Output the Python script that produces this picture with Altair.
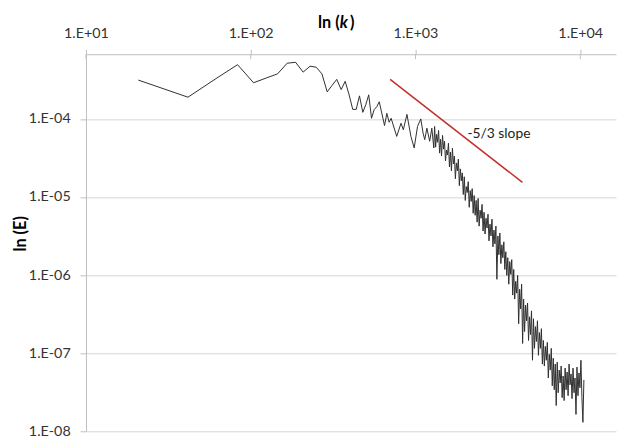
import altair as alt
import pandas as pd

# ---- data: decimal exponents (log10) ----
# low-k part (k = 20.8 n, n = 1..29)
low_log_k = [1.318, 1.619, 1.795, 1.920, 2.017, 2.096, 2.163, 2.221, 2.272, 2.318,
             2.360, 2.397, 2.432, 2.464, 2.494, 2.522, 2.549, 2.573, 2.597, 2.619,
             2.640, 2.660, 2.680, 2.698, 2.716, 2.733, 2.749, 2.765, 2.780]
low_log_E = [-3.503, -3.722, -3.476, -3.306, -3.537, -3.475, -3.423, -3.287, -3.275, -3.401,
             -3.325, -3.338, -3.423, -3.654, -3.570, -3.494, -3.625, -3.519, -3.692, -3.878,
             -3.878, -3.705, -3.916, -3.819, -3.692, -3.992, -3.882, -3.844, -3.781]

# middle part
mid_log_k = [2.812, 2.826, 2.840, 2.852, 2.886, 2.912, 2.926, 2.948, 2.972, 2.992,
             3.012, 3.032, 3.046, 3.056, 3.069, 3.086, 3.099, 3.111]
mid_log_E = [-4.085, -3.929, -4.043, -3.992, -4.224, -4.056, -4.139, -3.942, -4.224, -4.372,
             -4.097, -4.000, -4.182, -4.266, -4.119, -4.287, -4.119, -4.372]

# high-k dense part
high_log_k = [3.116, 3.122, 3.128, 3.134, 3.140, 3.146, 3.152, 3.158, 3.164, 3.170,
              3.176, 3.182, 3.188, 3.194, 3.200, 3.206, 3.212, 3.218, 3.224, 3.230,
              3.236, 3.242, 3.248, 3.254, 3.260, 3.266, 3.272, 3.278, 3.284, 3.290,
              3.296, 3.302, 3.308, 3.314, 3.320, 3.326, 3.332, 3.338, 3.344, 3.350,
              3.356, 3.362, 3.368, 3.374, 3.380, 3.386, 3.392, 3.398, 3.404, 3.410,
              3.416, 3.422, 3.428, 3.434, 3.440, 3.446, 3.452, 3.458, 3.464, 3.470,
              3.476, 3.482, 3.488, 3.494, 3.500, 3.506, 3.512, 3.518, 3.524, 3.530,
              3.536, 3.542, 3.548, 3.554, 3.560, 3.566, 3.572, 3.578, 3.584, 3.590,
              3.596, 3.602, 3.608, 3.614, 3.620, 3.626, 3.632, 3.638, 3.644, 3.650,
              3.656, 3.662, 3.668, 3.674, 3.680, 3.686, 3.692, 3.698, 3.704, 3.710,
              3.716, 3.722, 3.728, 3.734, 3.740, 3.746, 3.752, 3.758, 3.764, 3.770,
              3.776, 3.782, 3.788, 3.794, 3.800, 3.806, 3.812, 3.818, 3.824, 3.830,
              3.836, 3.842, 3.848, 3.854, 3.860, 3.866, 3.872, 3.878, 3.884, 3.890,
              3.896, 3.902, 3.908, 3.914, 3.920, 3.926, 3.932, 3.938, 3.944, 3.950,
              3.956, 3.962, 3.968, 3.974, 3.980, 3.986, 3.992, 3.998, 4.004, 4.010,
              4.016, 4.022]
high_log_E = [-4.097, -4.362, -4.198, -4.299, -4.148, -4.438, -4.261, -4.476, -4.211, -4.387,
              -4.287, -4.539, -4.400, -4.463, -4.312, -4.615, -4.425, -4.665, -4.375, -4.577,
              -4.476, -4.766, -4.564, -4.665, -4.514, -4.855, -4.640, -4.792, -4.691, -4.968,
              -4.741, -5.044, -4.867, -4.943, -4.804, -5.132, -4.918, -5.057, -4.893, -5.208,
              -4.981, -5.234, -5.044, -5.322, -5.019, -5.373, -5.170, -5.272, -5.095, -5.436,
              -5.196, -5.474, -5.272, -5.398, -5.221, -5.562, -5.347, -5.499, -5.284, -5.638,
              -5.423, -5.600, -5.373, -6.054, -5.499, -5.739, -5.461, -5.852, -5.612, -5.777,
              -5.574, -5.928, -5.701, -6.004, -5.777, -6.117, -5.827, -5.991, -5.802, -6.256,
              -5.928, -6.307, -6.080, -6.231, -6.004, -6.623, -6.181, -6.433, -6.117, -6.875,
              -6.307, -6.723, -6.383, -6.585, -6.357, -6.837, -6.534, -6.761, -6.458, -7.090,
              -6.559, -6.938, -6.660, -6.850, -6.585, -7.027, -6.736, -6.938, -6.686, -7.140,
              -6.837, -7.165, -6.913, -7.090, -6.862, -7.317, -7.014, -7.216, -6.938, -7.418,
              -7.064, -7.468, -7.140, -7.670, -7.115, -7.506, -7.216, -7.380, -7.165, -7.569,
              -7.292, -7.607, -7.191, -7.468, -7.241, -7.544, -7.140, -7.405, -7.266, -7.582,
              -7.191, -7.506, -7.317, -7.784, -7.178, -7.544, -7.254, -7.443, -7.090, -7.569,
              -7.885, -7.342]

# -5/3 reference line end points
slope_log_k = [2.846, 3.649]
slope_log_E = [-3.495, -4.813]

x_ticks = [10, 100, 1000, 10000]
y_ticks = [1e-8, 1e-7, 1e-6, 1e-5, 1e-4]
x_domain = [10, 16480]
y_domain = [1e-8, 6.73e-4]

log_k = low_log_k + mid_log_k + high_log_k
log_E = low_log_E + mid_log_E + high_log_E
spec = pd.DataFrame({"k": [10 ** v for v in log_k], "E": [10 ** v for v in log_E]})
slope = pd.DataFrame({"k": [10 ** v for v in slope_log_k], "E": [10 ** v for v in slope_log_E]})
ticks = pd.DataFrame({"k": x_ticks})
one = pd.DataFrame({"a": [0]})

lab = ("'1.E' + (round(log(datum.value)/LN10) < 0 ? '-' : '+') + '0' + "
       "abs(round(log(datum.value)/LN10))")

FONT = "Lato"
AX = "#bfbfbf"

x_enc = alt.X("k:Q", title=None,
              scale=alt.Scale(type="log", domain=x_domain, nice=False),
              axis=alt.Axis(orient="top", values=x_ticks, labelExpr=lab, grid=False,
                            domainColor=AX, tickColor=AX, tickSize=5, labelPadding=9,
                            labelFont=FONT, labelFontSize=14.5, labelColor="#333333",
                            labelFlush=False))
y_enc = alt.Y("E:Q", title=None,
              scale=alt.Scale(type="log", domain=y_domain, nice=False),
              axis=alt.Axis(values=y_ticks, labelExpr=lab, grid=True, gridColor="#d4d4d4",
                            domainColor=AX, tickColor=AX, tickSize=6, labelPadding=10,
                            labelFont=FONT, labelFontSize=14.5, labelColor="#333333",
                            labelFlush=False))

line = alt.Chart(spec).mark_line(color="#2e2e2e", strokeWidth=1).encode(x=x_enc, y=y_enc)
red = alt.Chart(slope).mark_line(color="#c0302c", strokeWidth=1.5).encode(x=x_enc, y=y_enc)
inner = alt.Chart(ticks).mark_rule(color=AX).encode(x=x_enc, y=alt.value(0), y2=alt.value(5))


def txt(s, x, y, **kw):
    return alt.Chart(one).mark_text(text=s, font=FONT, **kw).encode(x=alt.value(x), y=alt.value(y))


t1 = txt("ln (", 257, -27, align="right", baseline="alphabetic", fontSize=16.5, fontWeight="bold", color="#000000")
t2 = txt("k", 257, -27, align="left", baseline="alphabetic", fontSize=16.5, fontWeight="bold", fontStyle="italic", color="#000000")
t3 = txt(")", 267.5, -27, align="left", baseline="alphabetic", fontSize=16.5, fontWeight="bold", color="#000000")
ty = txt("ln (E)", -66, 182, align="center", baseline="middle", angle=270, fontSize=16.5, fontWeight="bold", color="#000000")
ts = txt("-5/3 slope", 386.5, 84.7, align="left", baseline="alphabetic", fontSize=14, color="#222222")

chart = alt.layer(line, red, inner, t1, t2, t3, ty, ts).properties(
    width=537, height=382,
    padding={"left": 79, "top": 44, "right": 2, "bottom": 7},
    autosize="none",
    background="white",
).configure_view(stroke=None)

chart.save("out.html", embed_options={"renderer": "svg", "actions": False})
